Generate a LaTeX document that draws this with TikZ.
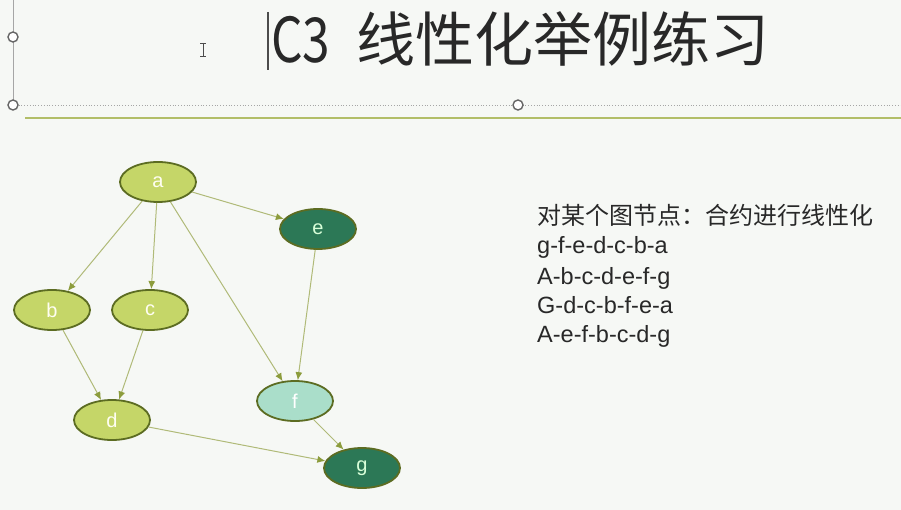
\documentclass[tikz,border=0pt]{standalone}
\usepackage{fontspec}
\setmainfont{Liberation Sans}
\newfontfamily\cjk{Noto Sans CJK SC}
\usetikzlibrary{shapes.geometric,arrows.meta}
\definecolor{bgc}{RGB}{246,248,245}
\definecolor{lightfill}{RGB}{197,214,104}
\definecolor{darkfill}{RGB}{44,120,86}
\definecolor{aquafill}{RGB}{170,222,202}
\definecolor{rimc}{RGB}{92,108,34}
\definecolor{edgec}{RGB}{176,186,120}
\definecolor{tipc}{RGB}{140,156,60}
\definecolor{sepc}{RGB}{178,190,104}
\definecolor{txtc}{RGB}{40,40,40}
\tikzset{
  gnode/.style={ellipse, draw=rimc, line width=1.8pt, minimum width=76pt, minimum height=40pt, inner sep=0pt, font=\fontsize{20}{20}\selectfont},
  lightnode/.style={gnode, fill=lightfill, text=white!95!yellow},
  darknode/.style={gnode, fill=darkfill, text=white!85!green},
  aquanode/.style={gnode, fill=aquafill, text=white},
  gedge/.style={draw=edgec, line width=1pt, -{Latex[length=8pt,width=7pt,color=tipc]}},
  handle/.style={circle, draw=gray!80!black, line width=1.4pt, fill=white, minimum size=10pt, inner sep=0pt},
  listline/.style={anchor=base west, inner sep=0pt, text=txtc, font=\fontsize{23.5}{23.5}\selectfont}
}
\begin{document}
\begin{tikzpicture}[x=1pt,y=-1pt]
\fill[bgc] (0,0) rectangle (901,510);
\useasboundingbox (0,0) rectangle (901,510);
% text box frame
\draw[gray!70, line width=0.8pt] (13,0) -- (13,105);
\draw[gray!70, line width=0.8pt, dotted] (13,105) -- (901,105);
\draw[sepc, line width=2pt] (25,118) -- (901,118);
\node[handle] (h1) at (13,37) {};
\node[handle] (h2) at (13,105) {};
\node[handle] (h3) at (518,105) {};
% caret and I-beam
\draw[gray!60!black, line width=1.2pt] (268,12) -- (268,70);
\draw[gray!60!black, line width=0.9pt] (203,43) -- (203,56) (200,43) -- (206,43) (200,56) -- (206,56);
% title
\node[anchor=base west, inner sep=0pt, text=txtc] (t1) at (271,63) {\cjk\fontsize{62}{62}\selectfont\scalebox{0.8}[1]{C3}};
\node[anchor=base west, inner sep=0pt, text=txtc] (t2) at (356,62) {\cjk\fontsize{59}{59}\selectfont 线性化举例练习};
% graph
\node[lightnode] (a) at (158,182) {a};
\node[darknode] (e) at (318,229) {e};
\node[lightnode] (b) at (52,310) {b};
\node[lightnode] (c) at (150,310) {c};
\node[lightnode] (d) at (112,420) {d};
\node[aquanode] (f) at (295,401) {f};
\node[darknode] (g) at (362,468) {g};
\draw[gedge] (a) -- (b);
\draw[gedge] (a) -- (c);
\draw[gedge] (a) -- (e);
\draw[gedge] (a) -- (f);
\draw[gedge] (e) -- (f);
\draw[gedge] (b) -- (d);
\draw[gedge] (c) -- (d);
\draw[gedge] (d) -- (g);
\draw[gedge] (f) -- (g);
% list
\node[listline, font=\fontsize{24}{24}\selectfont] (l1) at (537,225) {\cjk 对某个图节点：合约进行线性化};
\node[listline] (l2) at (537,254) {g-f-e-d-c-b-a};
\node[listline] (l3) at (537,284) {A-b-c-d-e-f-g};
\node[listline] (l4) at (537,313) {G-d-c-b-f-e-a};
\node[listline] (l5) at (537,342) {A-e-f-b-c-d-g};
\end{tikzpicture}
\end{document}
